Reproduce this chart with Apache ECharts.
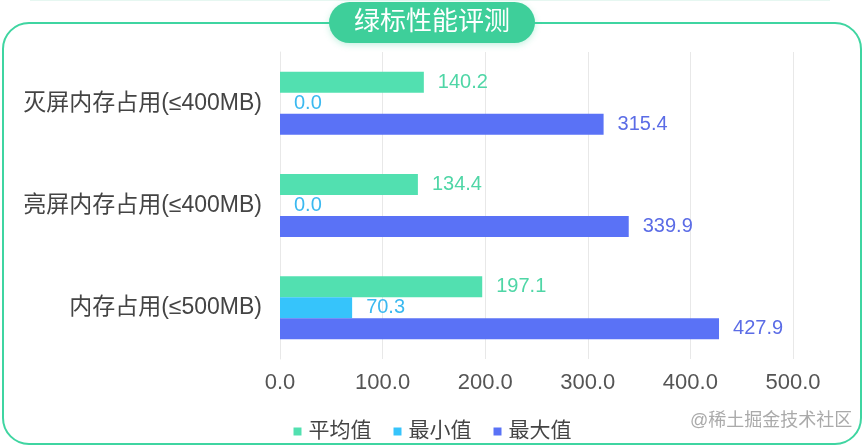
<!DOCTYPE html>
<html>
<head>
<meta charset="utf-8">
<style>
html,body{margin:0;padding:0;background:#fff;}
#c{width:865px;height:448px;}
</style>
<script src="https://cdn.jsdelivr.net/npm/echarts@6/dist/echarts.min.js"></script>
</head>
<body>
<div id="c"></div>
<script>
const categories = ['灭屏内存占用(≤400MB)', '亮屏内存占用(≤400MB)', '内存占用(≤500MB)'];
const seriesNames = ['平均值', '最小值', '最大值'];
const avgValues = [140.2, 134.4, 197.1];
const minValues = [0.0, 0.0, 70.3];
const maxValues = [315.4, 339.9, 427.9];
const titleText = '绿标性能评测';
const watermark = '@稀土掘金技术社区';

const barColors = ['#52e0b0', '#36c4fb', '#5a72f6'];
const labelColors = ['#4fd6a6', '#3bb9f0', '#5b6ce6'];
const font = '"Liberation Sans", "Noto Sans CJK SC", sans-serif';

const chart = echarts.init(document.getElementById('c'));
const mk = (name, data, i) => ({
  name, type: 'bar', data,
  barWidth: 21, barGap: '0%',
  itemStyle: { color: barColors[i] },
  label: {
    show: true, position: 'right', distance: 14,
    color: labelColors[i], fontSize: 20, fontFamily: font,
    formatter: p => p.value.toFixed(1)
  }
});
chart.setOption({
  animation: false,
  textStyle: { fontFamily: font },
  grid: { left: 280, right: 72, top: 52, bottom: 89 },
  legend: {
    data: seriesNames, top: 416, left: 'center',
    icon: 'rect', itemWidth: 8, itemHeight: 8, itemGap: 22,
    textStyle: { fontSize: 21, color: '#444', fontFamily: font, padding: [0, 0, 0, 2] }
  },
  xAxis: {
    type: 'value', min: 0, max: 500, interval: 100,
    axisLabel: { fontSize: 22, color: '#555', margin: 13, formatter: v => v.toFixed(1), fontFamily: font },
    splitLine: { lineStyle: { color: '#e8e8e8' } },
    axisLine: { show: false }, axisTick: { show: false }
  },
  yAxis: {
    type: 'category', data: categories, inverse: true,
    axisLabel: { fontSize: 23, color: '#444', margin: 18, fontFamily: font },
    axisLine: { show: true, lineStyle: { color: '#e8e8e8' } },
    axisTick: { show: false }
  },
  graphic: [
    { type: 'line', shape: { x1: 30, y1: 0.5, x2: 830, y2: 0.5 }, style: { stroke: '#e6f7f1', lineWidth: 1 }, z: 0 },
    { type: 'rect', shape: { x: 3, y: 23, width: 858, height: 421, r: 26 }, style: { fill: 'none', stroke: '#3fd5a1', lineWidth: 2 }, z: 0 },
    { type: 'rect', shape: { x: 329, y: 2, width: 206, height: 41, r: 20.5 }, style: { fill: '#3ecf9a', shadowBlur: 6, shadowColor: 'rgba(62,207,154,0.3)', shadowOffsetY: 2 }, z: 10 },
    { type: 'text', x: 432, y: 23, style: { text: titleText, fill: '#fff', fontSize: 26, fontFamily: font, textAlign: 'center', textVerticalAlign: 'middle' }, z: 11 },
    { type: 'text', x: 690, y: 421, style: { text: watermark, fill: '#aaa', fontSize: 18, fontFamily: font, textVerticalAlign: 'middle' }, z: 11 }
  ],
  series: [mk(seriesNames[0], avgValues, 0), mk(seriesNames[1], minValues, 1), mk(seriesNames[2], maxValues, 2)]
});
</script>
</body>
</html>
